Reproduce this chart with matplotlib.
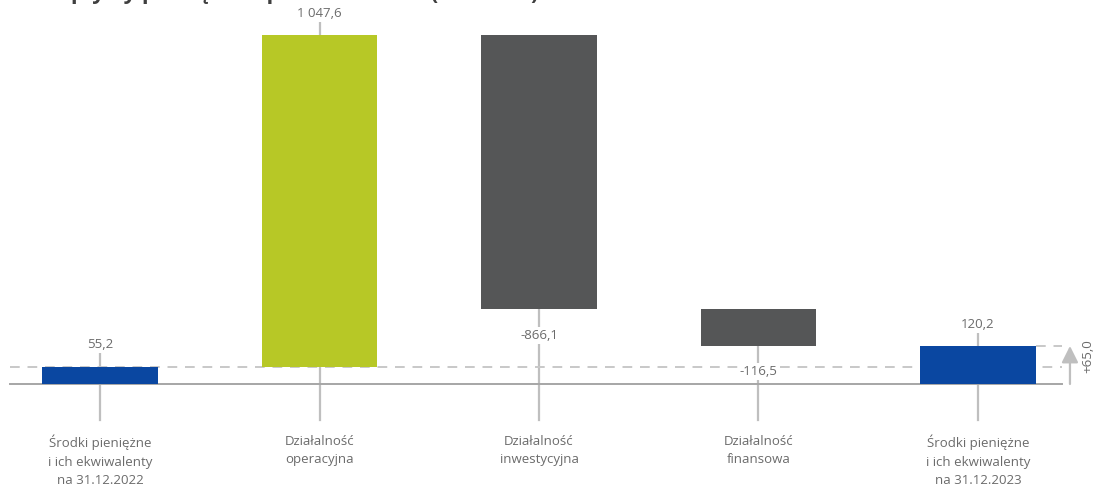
import matplotlib.pyplot as plt
from matplotlib.ticker import NullLocator

plt.rcParams['font.family'] = ['Open Sans', 'DejaVu Sans']

categories = [
    "Środki pieniężne\ni ich ekwiwalenty\nna 31.12.2022",
    "Działalność\noperacyjna",
    "Działalność\ninwestycyjna",
    "Działalność\nfinansowa",
    "Środki pieniężne\ni ich ekwiwalenty\nna 31.12.2023",
]
values = [55.2, 1047.6, -866.1, -116.5, 120.2]
kinds = ["total", "delta", "delta", "delta", "total"]
value_labels = ["55,2", "1 047,6", "-866,1", "-116,5", "120,2"]
change_label = "+65,0"

BLUE = "#0A47A1"
GREEN = "#B7C826"
DARK = "#555657"
TEXT = "#6B6B6B"
LINE = "#BFBFBF"

fig = plt.figure(figsize=(10.96, 4.88), dpi=100)
ax = fig.add_axes([0, 0, 1, 1])
ax.set_xlim(-0.4556, 4.5376)
ax.set_ylim(-328.6, 1213.3)
ax.axis("off")

# waterfall bases
bottoms, tops = [], []
running = 0.0
for v, k in zip(values, kinds):
    if k == "total":
        b, t = 0.0, v
        running = v
    else:
        b, t = running, running + v
        running = t
    bottoms.append(min(b, t))
    tops.append(max(b, t))

colors = []
for v, k in zip(values, kinds):
    if k == "total":
        colors.append(BLUE)
    elif v >= 0:
        colors.append(GREEN)
    else:
        colors.append(DARK)

x = range(len(values))
tick_bottom = -114

# vertical guide lines behind bars
for i, (v, k) in enumerate(zip(values, kinds)):
    start = tops[i] + 40 if v >= 0 else bottoms[i]
    ax.plot([i, i], [tick_bottom, start], color=LINE, lw=1.6, zorder=1)

# reference lines
ax.plot([-0.41, 4.383], [0, 0], color="#A6A6A6", lw=1.4, zorder=2)
ax.plot([-0.41, 4.383], [values[0], values[0]], color="#C8C8C8", lw=1.4,
        ls=(0, (5, 4)), zorder=1)
ax.plot([4 + 0.2625, 4.383], [values[-1], values[-1]], color="#C8C8C8", lw=1.4,
        ls=(0, (5, 4)), zorder=1)

ax.bar(x, [t - b for t, b in zip(tops, bottoms)], bottom=bottoms,
       width=0.525, color=colors, zorder=3)

# value labels
for i, (v, lab) in enumerate(zip(values, value_labels)):
    if v >= 0:
        y, dy, va = tops[i], 11, "bottom"
    else:
        y, dy, va = bottoms[i], -14, "top"
    ax.annotate(lab, (i, y), xytext=(0, dy), textcoords="offset points",
                ha="center", va=va, fontsize=9.5, color=TEXT, zorder=5,
                bbox=dict(boxstyle="square,pad=0.15", fc="white", ec="none"))

# category labels
for i, c in enumerate(categories):
    ax.text(i, -160, c, ha="center", va="top", fontsize=9.5, color=TEXT,
            linespacing=1.55)

# change arrow
ax.annotate("", xy=(4.419, values[-1]), xytext=(4.419, 0),
            arrowprops=dict(arrowstyle="-|>,head_width=0.5,head_length=1.0",
                            color="#BFBFBF", lw=1.6, shrinkA=0, shrinkB=0))
ax.text(4.5, values[-1] * 0.72, change_label, rotation=90, ha="center",
        va="center", fontsize=9.5, color=TEXT)

ax.xaxis.set_major_locator(NullLocator())

fig.text(0.021, 1.0 + 1 / 488, "Przepływy pieniężne Spółki w 2023 r. (mln PLN)",
         ha="left", va="baseline", fontsize=15.8, fontweight="bold", color="#3F3F3F")

fig.savefig("out.png", dpi=100, facecolor="white")
